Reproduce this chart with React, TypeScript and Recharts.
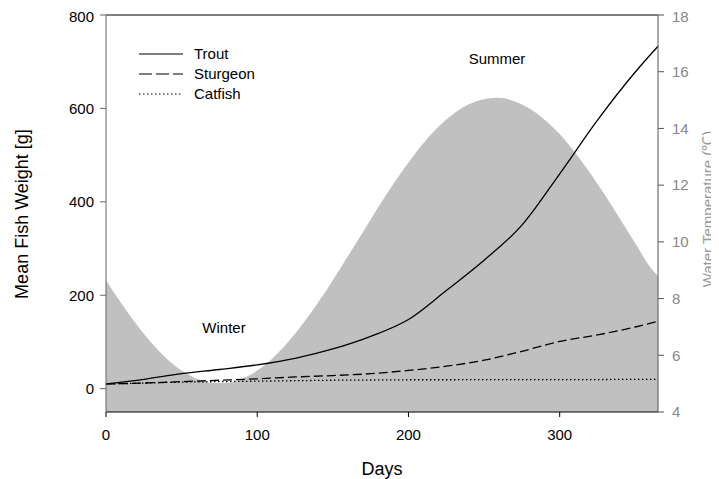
import React from "react";
import {
  ComposedChart,
  Area,
  Line,
  XAxis,
  YAxis,
  ReferenceLine,
} from "recharts";

// water temperature (°C)
const tempDays = [0, 10, 20, 30, 40, 50, 60, 70, 80, 90, 100, 110, 120, 130, 140, 150, 160, 170, 180, 190, 200, 210, 220, 230, 240, 250, 260, 270, 280, 290, 300, 310, 320, 330, 340, 350, 360, 365];
const tempValues = [8.65, 7.84, 7.1, 6.44, 5.89, 5.46, 5.17, 5.02, 5.02, 5.17, 5.46, 5.89, 6.44, 7.1, 7.84, 8.65, 9.5, 10.36, 11.22, 12.04, 12.8, 13.49, 14.07, 14.53, 14.85, 15.03, 15.08, 14.96, 14.7, 14.31, 13.8, 13.16, 12.44, 11.64, 10.8, 9.95, 9.1, 8.8];

// mean fish weight (g)
const fishDays = [0, 25, 50, 75, 100, 125, 150, 175, 200, 225, 250, 275, 300, 325, 350, 365];
const trout = [10, 20, 32, 41, 51, 65, 85, 112, 148, 210, 275, 350, 460, 575, 678, 733];
const sturgeon = [10, 12, 15, 18, 21, 25, 28, 32, 39, 48, 61, 80, 101, 115, 132, 144];
const catfish = [10, 12, 14, 15, 16, 17, 18, 18.5, 19, 19, 19.5, 19.5, 19.5, 19.5, 20, 20];

const xTicks = [0, 100, 200, 300];
const weightTicks = [0, 200, 400, 600, 800];
const tempTicks = [4, 6, 8, 10, 12, 14, 16, 18];

const tempData = tempDays.map((d, i) => ({ day: d, temp: tempValues[i] }));
const fishData = fishDays.map((d, i) => ({
  day: d,
  trout: trout[i],
  sturgeon: sturgeon[i],
  catfish: catfish[i],
}));

const FONT = "'Liberation Sans', Arial, sans-serif";
const W = 711;
const H = 471;

const legendItems = [
  { name: "Trout", dash: undefined },
  { name: "Sturgeon", dash: "13 4" },
  { name: "Catfish", dash: "1.5 2.5" },
];

export default function App() {
  return (
    <div style={{ position: "relative", width: W, height: H, fontFamily: FONT }}>
      <ComposedChart
        width={W}
        height={H}
        margin={{ top: 7, right: 11, bottom: 27, left: 38 }}
        style={{ fontFamily: FONT }}
      >
        <XAxis
          dataKey="day"
          type="number"
          domain={[0, 365]}
          ticks={xTicks}
          allowDuplicatedCategory={false}
          stroke="#000"
          tickSize={5}
          tickMargin={12}
          height={40}
          tick={{ fill: "#000", fontSize: 15 }}
        />
        <YAxis
          yAxisId="left"
          domain={[-50, 800]}
          ticks={weightTicks}
          allowDataOverflow
          stroke="#666"
          tickSize={6}
          tickMargin={6}
          width={60}
          tick={{ fill: "#000", fontSize: 15 }}
        />
        <YAxis
          yAxisId="right"
          orientation="right"
          domain={[4, 18]}
          ticks={tempTicks}
          allowDataOverflow
          stroke="#555"
          tickSize={6}
          tickMargin={8}
          width={50}
          tick={{ fill: "#888", fontSize: 15 }}
        />
        <Area
          yAxisId="right"
          data={tempData}
          dataKey="temp"
          type="monotone"
          stroke="none"
          fill="#c0c0c0"
          fillOpacity={1}
          isAnimationActive={false}
        />
        <ReferenceLine yAxisId="left" y={800} stroke="#000" />
        <Line
          yAxisId="left"
          data={fishData}
          dataKey="trout"
          type="monotone"
          stroke="#000"
          strokeWidth={1.3}
          dot={false}
          isAnimationActive={false}
        />
        <Line
          yAxisId="left"
          data={fishData}
          dataKey="sturgeon"
          type="monotone"
          stroke="#000"
          strokeWidth={1.3}
          strokeDasharray="9 4"
          dot={false}
          isAnimationActive={false}
        />
        <Line
          yAxisId="left"
          data={fishData}
          dataKey="catfish"
          type="monotone"
          stroke="#000"
          strokeWidth={1.3}
          strokeDasharray="1.5 2.5"
          dot={false}
          isAnimationActive={false}
        />
      </ComposedChart>
      <svg
        width={W}
        height={H}
        style={{ position: "absolute", left: 0, top: 0, pointerEvents: "none" }}
        fontFamily={FONT}
      >
        {legendItems.map((it, i) => (
          <g key={it.name}>
            <line
              x1={131}
              x2={175}
              y1={46 + i * 20}
              y2={46 + i * 20}
              stroke="#000"
              strokeWidth={1.2}
              strokeDasharray={it.dash}
            />
            <text x={186} y={51 + i * 20} fontSize={15} fill="#000">
              {it.name}
            </text>
          </g>
        ))}
        <text x={216} y={325} fontSize={15} textAnchor="middle" fill="#000">
          Winter
        </text>
        <text x={489} y={56} fontSize={15} textAnchor="middle" fill="#000">
          Summer
        </text>
        <text x={374} y={467} fontSize={18} textAnchor="middle" fill="#000">
          Days
        </text>
        <text
          transform="translate(20 206) rotate(-90)"
          fontSize={18}
          textAnchor="middle"
          fill="#000"
        >
          Mean Fish Weight [g]
        </text>
        <text
          transform="translate(705 201) rotate(-90)"
          fontSize={15}
          textAnchor="middle"
          fill="#999"
        >
          Water Temperature (℃)
        </text>
      </svg>
    </div>
  );
}
